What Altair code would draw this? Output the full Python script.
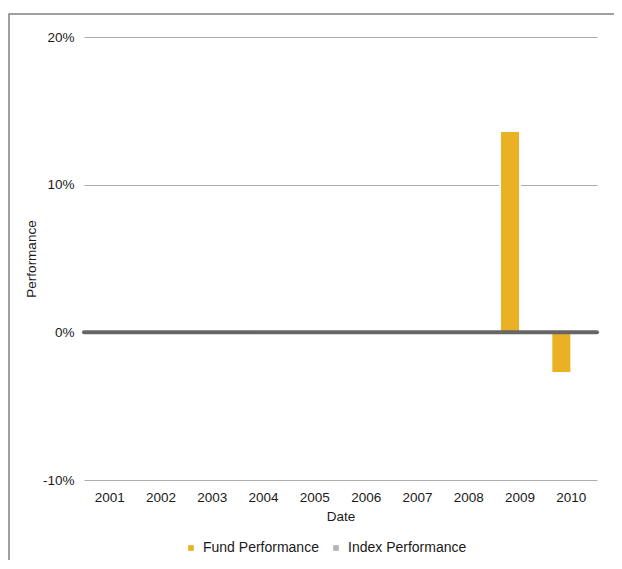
import altair as alt
import pandas as pd

years = ["2001", "2002", "2003", "2004", "2005", "2006", "2007", "2008", "2009", "2010"]
fund = [0, 0, 0, 0, 0, 0, 0, 0, 0.1363, -0.0276]
index = [0, 0, 0, 0, 0, 0, 0, 0, 0, 0]
series = ["Fund Performance", "Index Performance"]
colors = ["#E9B123", "#B3B3B3"]

rows = []
for i, y in enumerate(years):
    rows.append({"Date": y, "Series": series[0], "Performance": fund[i]})
    rows.append({"Date": y, "Series": series[1], "Performance": index[i]})
df = pd.DataFrame(rows)

FONT = "Liberation Sans"

bars = alt.Chart(df).mark_bar(stroke="white", strokeWidth=2).encode(
    x=alt.X("Date:N", title="Date", sort=years,
            scale=alt.Scale(paddingInner=0.22, paddingOuter=0.11),
            axis=alt.Axis(labelAngle=0, ticks=False, domain=False, grid=False, labelPadding=10,
                          titlePadding=6, labelFontSize=13.5, titleFontSize=13.5,
                          titleFontWeight="normal", labelColor="#1a1a1a", titleColor="#1a1a1a",
                          labelFont=FONT, titleFont=FONT)),
    xOffset=alt.XOffset("Series:N", sort=series, scale=alt.Scale(paddingInner=0, paddingOuter=0)),
    y=alt.Y("Performance:Q", title="Performance",
            scale=alt.Scale(domain=[-0.1, 0.2], nice=False),
            axis=alt.Axis(values=[-0.1, 0, 0.1, 0.2], format=".0%",
                          labelExpr="replace(datum.label, '\u2212', '-')",
                          ticks=False, domain=False, labelPadding=10, titlePadding=4,
                          grid=True, gridColor="#ABABAB", gridWidth=1,
                          labelFontSize=13.5, titleFontSize=13.5, titleFontWeight="normal",
                          labelColor="#1a1a1a", titleColor="#1a1a1a",
                          labelFont=FONT, titleFont=FONT)),
    color=alt.Color("Series:N", sort=series, title=None,
                    scale=alt.Scale(domain=series, range=colors),
                    legend=alt.Legend(orient="none", direction="horizontal",
                                      legendX=100, legendY=504,
                                      symbolType="square", symbolSize=32,
                                      symbolStrokeWidth=0, labelFontSize=14,
                                      labelFont=FONT, labelColor="#1a1a1a",
                                      labelOffset=5, columnPadding=10)),
)

zero = alt.Chart(pd.DataFrame({"v": [0]})).mark_rule(
    color="#666666", strokeWidth=4, strokeCap="round"
).encode(y=alt.Y("v:Q"))

border = alt.Chart(pd.DataFrame({"a": [0]})).mark_rect(
    fillOpacity=0, stroke="#808080", strokeWidth=1.5
).encode(x=alt.value(-75), x2=alt.value(800), y=alt.value(-23), y2=alt.value(800))

chart = alt.layer(border, bars, zero).properties(
    width=513, height=443,
    autosize=alt.AutoSizeParams(type="none"),
    padding={"left": 76, "top": 29, "right": 17, "bottom": 80},
).configure(font=FONT).configure_view(strokeWidth=0, strokeOpacity=0)

chart.save("out.html", embed_options={"renderer": "svg", "actions": False})
